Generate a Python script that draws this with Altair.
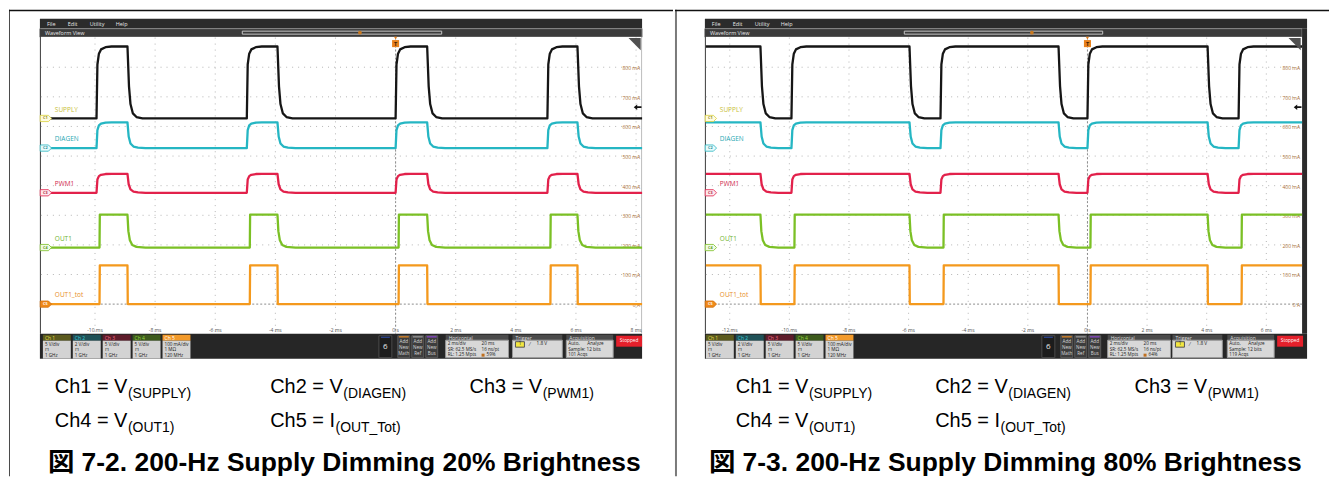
import altair as alt
import pandas as pd

# ---------------- values read from the two scope screens ----------------
CHANNELS = ["SUPPLY", "DIAGEN", "PWM1", "OUT1", "OUT1_tot"]
BADGES = ["C1", "C2", "C3", "C4", "C5"]
TRACE_COLORS = ["#161616", "#25b6c3", "#e2214b", "#7bc025", "#f4991d"]
LABEL_COLORS = ["#c8c03a", "#28a8b3", "#d12a4e", "#70b42c", "#e88d24"]
# on-screen levels expressed on the Ch5 graticule (mA)
LOW_LEVEL = [627, 527, 376, 191, 0]
HIGH_LEVEL = [870, 614, 440, 302, 131]

# edge shapes: ms after the edge, fraction of the step
RISE_T = {"SUPPLY": [0, 0.03, 0.08, 0.15, 0.3, 0.5], "DIAGEN": [0, 0.03, 0.08, 0.15, 0.3, 0.5],
          "PWM1": [0, 0.03, 0.08, 0.15, 0.3, 0.5], "OUT1": [0.1, 0.11], "OUT1_tot": [0.1, 0.11]}
RISE_F = {"SUPPLY": [0, 0.75, 0.9, 0.96, 0.99, 1], "DIAGEN": [0, 0.7, 0.88, 0.95, 0.99, 1],
          "PWM1": [0, 0.7, 0.88, 0.95, 0.99, 1], "OUT1": [0, 1], "OUT1_tot": [0, 1]}
FALL_T = {"SUPPLY": [0, 0.05, 0.1, 0.18, 0.3, 0.5], "DIAGEN": [0, 0.04, 0.1, 0.2, 0.35, 0.6],
          "PWM1": [0, 0.04, 0.1, 0.2, 0.35, 0.6], "OUT1": [0, 0.03, 0.08, 0.16, 0.3, 0.6],
          "OUT1_tot": [0, 0.01]}
FALL_F = {"SUPPLY": [0, 0.55, 0.8, 0.93, 0.98, 1], "DIAGEN": [0, 0.55, 0.82, 0.94, 0.98, 1],
          "PWM1": [0, 0.55, 0.82, 0.94, 0.98, 1], "OUT1": [0, 0.5, 0.78, 0.92, 0.98, 1],
          "OUT1_tot": [0, 1]}

P20_WINDOW = [-11.8, 8.2]
P20_RISE = [-9.95, -4.95, 0.0, 5.05]
P20_FALL = [-8.92, -3.93, 1.05, 6.05]
P20_TICKS = [-10, -8, -6, -4, -2, 0, 2, 4, 6, 8]
P20_TICK_LABELS = ["-10 ms", "-8 ms", "-6 ms", "-4 ms", "-2 ms", "0 s", "2 ms", "4 ms", "6 ms", "8 ms"]

P80_WINDOW = [-12.8, 7.2]
P80_RISE = [-9.93, -4.93, 0.0, 5.07]
P80_FALL = [-10.97, -5.97, -0.97, 4.03]
P80_TICKS = [-12, -10, -8, -6, -4, -2, 0, 2, 4, 6]
P80_TICK_LABELS = ["-12 ms", "-10 ms", "-8 ms", "-6 ms", "-4 ms", "-2 ms", "0 s", "2 ms", "4 ms", "6 ms"]

MA_TICKS = [0, 100, 200, 300, 400, 500, 600, 700, 800]
MA_TICK_LABELS = ["0 A", "100 mA", "200 mA", "300 mA", "400 mA", "500 mA", "600 mA", "700 mA", "800 mA"]
TRIGGER_LEVEL = 665

CH_HEADERS = ["Ch 1", "Ch 2", "Ch 3", "Ch 4", "Ch 5"]
CH_SCALE = ["5 V/div", "2 V/div", "5 V/div", "5 V/div", "100 mA/div"]
CH_COUPLING = ["⊓", "⊓", "⊓", "⊓", "1 MΩ"]
CH_BANDWIDTH = ["1 GHz", "1 GHz", "1 GHz", "1 GHz", "120 MHz"]
ADD_NEW = ["Math", "Ref", "Bus"]
HORIZ_LEFT = ["2 ms/div", "SR: 62.5 MS/s", "RL: 1.25 Mpts"]
HORIZ_RIGHT = ["20 ms", "16 ns/pt"]
ACQ_LINES = ["Sample: 12 bits"]

CAPTION_MAIN = ["Ch1 = V", "Ch2 = V", "Ch3 = V", "Ch4 = V", "Ch5 = I"]
CAPTION_SUB = ["(SUPPLY)", "(DIAGEN)", "(PWM1)", "(OUT1)", "(OUT_Tot)"]
TITLES = ["図 7-2. 200-Hz Supply Dimming 20% Brightness",
          "図 7-3. 200-Hz Supply Dimming 80% Brightness"]
TRIG_POS = ["59%", "64%"]
ACQ_COUNT = ["101 Acqs", "119 Acqs"]

# ---------------- layout / style ----------------
H = 468
Y_TOP, Y_BOT = 28, 325
UI_FONT = "Open Sans"
DOC_FONT = "Liberation Sans, Arial, Noto Sans CJK JP"
HDR_FILL = ["#5b5a1e", "#1f5157", "#5e1c2a", "#3d5a1c", "#f39a2a"]
HDR_TEXT = ["#e3dc4a", "#3cc8d4", "#f06a84", "#95d640", "#ffffff"]
ADD_COLORS = ["#e08a2a", "#9a9a9a", "#8a4ac8"]
MAIN_SIZE, SUB_SIZE, TITLE_SIZE = 20, 14, 26.5
CW = {"C": 0.722, "h": 0.556, "=": 0.584, " ": 0.278, "V": 0.667, "I": 0.278}
for d in "0123456789":
    CW[d] = 0.556

PANELS = [
    dict(width=666, sx=31, sx1=635, px0=32, px1=635, window=P20_WINDOW, rise=P20_RISE,
         fall=P20_FALL, start_high=False, ticks=P20_TICKS, tick_labels=P20_TICK_LABELS,
         right_frame=False, slider=(234, 434, 352), ch_x=34, six_x=371, add_x=390,
         hor_x=438, trg_x=505, acq_x=559, stop_x=609, cap_x=[46, 262, 462], title_x=39,
         idx=0, border="left"),
    dict(width=656, sx=30, sx1=634, px0=31, px1=629, window=P80_WINDOW, rise=P80_RISE,
         fall=P80_FALL, start_high=True, ticks=P80_TICKS, tick_labels=P80_TICK_LABELS,
         right_frame=True, slider=(230, 429, 358), ch_x=31, six_x=368, add_x=387,
         hor_x=434, trg_x=499, acq_x=554, stop_x=604, cap_x=[61, 261, 461], title_x=34,
         idx=1, border="divider"),
]


def trace_frame(window, rises, falls, start_high):
    rows = []
    events = sorted([(t, "r") for t in rises] + [(t, "f") for t in falls])
    for ci, ch in enumerate(CHANNELS):
        lo, hi = LOW_LEVEL[ci], HIGH_LEVEL[ci]
        level = hi if start_high else lo
        pts = [(window[0], level)]
        for t, kind in events:
            if kind == "r":
                offs, fr, a, b = RISE_T[ch], RISE_F[ch], lo, hi
            else:
                offs, fr, a, b = FALL_T[ch], FALL_F[ch], hi, lo
            for o, f in zip(offs, fr):
                pts.append((t + o, a + f * (b - a)))
            level = b
        pts.append((window[1], level))
        for k, (t, v) in enumerate(pts):
            rows.append({"t": t, "v": v, "ch": ch, "k": k, "col": TRACE_COLORS[ci]})
    return pd.DataFrame(rows)


def R(x, x2, y, y2, fill, stroke="transparent"):
    return {"x": x, "x2": x2, "y": y, "y2": y2, "fill": fill, "stroke": stroke}


def T(x, y, text, color, size, align="left", weight="normal"):
    return {"x": x, "y": y, "text": text, "color": color, "size": size, "align": align,
            "weight": weight}


def rect_layer(rows):
    return alt.Chart(pd.DataFrame(rows)).mark_rect(strokeWidth=1).encode(
        x=alt.X("x:Q", scale=None), x2="x2:Q", y=alt.Y("y:Q", scale=None), y2="y2:Q",
        fill=alt.Fill("fill:N", scale=None), stroke=alt.Stroke("stroke:N", scale=None))


def text_layers(rows, font=UI_FONT, baseline="middle"):
    df = pd.DataFrame(rows)
    out = []
    for (al, wt), g in df.groupby(["align", "weight"]):
        out.append(alt.Chart(g.reset_index(drop=True)).mark_text(
            align=al, baseline=baseline, font=font, fontWeight=wt).encode(
            x=alt.X("x:Q", scale=None), y=alt.Y("y:Q", scale=None), text="text:N",
            color=alt.Color("color:N", scale=None), size=alt.Size("size:Q", scale=None)))
    return out


def build_panel(P):
    W, sx, sx1, px0, px1 = P["width"], P["sx"], P["sx1"], P["px0"], P["px1"]
    xs = alt.Scale(domain=P["window"], range=[px0, px1], nice=False, zero=False)
    ys = alt.Scale(domain=[-100, 900], range=[Y_BOT, Y_TOP], nice=False, zero=False)

    # ---- chrome ----
    bg = [
        R(sx, sx1, 9, 19, "#2b2b2b"),
        R(sx, px1, 19, 27.5, "#3b3b3b", "#8a8a8a"),
        R(sx, px1, 27.5, Y_BOT, "#ffffff"),
        R(sx, sx + 1, 19, Y_BOT, "#3a3a3a"),
        R(sx, sx1, Y_BOT, 350, "#262626"),
    ]
    if P["right_frame"]:
        bg.append(R(px1, sx1, 19, Y_BOT, "#2b2b2b"))
    else:
        bg.append(R(px1 - 1, px1, 27.5, Y_BOT, "#bdbdbd"))
    sl0, sl1, slm = P["slider"]
    bg.append(R(sl0, sl1, 21.5, 24.5, "transparent", "#c6c6c6"))
    texts = [T(sx + d, 14, s, "#e6e6e6", 5.5) for d, s in zip([7, 28, 50, 76],
                                                              ["File", "Edit", "Utility", "Help"])]
    texts.append(T(sx + 5, 23.3, "Waveform View", "#e6e6e6", 5.5))

    # status bar
    sb = []
    for i in range(5):
        x0 = P["ch_x"] + 30 * i
        sb.append(R(x0, x0 + 28, 326, 332, HDR_FILL[i]))
        sb.append(R(x0, x0 + 28, 332, 350, "#d3d3d3"))
        texts.append(T(x0 + 2, 329, CH_HEADERS[i], HDR_TEXT[i], 5))
        for y, s in zip([336, 341.5, 347], [CH_SCALE[i], CH_COUPLING[i], CH_BANDWIDTH[i]]):
            texts.append(T(x0 + 2, y, s, "#1a1a1a", 4.6))
    six = P["six_x"]
    sb.append(R(six, six + 13, 327, 349, "#1c1c1c", "#4a4a4a"))
    sb.append(R(six + 2, six + 11, 328, 329, "#3050b0"))
    texts.append(T(six + 6.5, 338.5, "6", "#e8e8e8", 8, "center"))
    for j in range(3):
        x0 = P["add_x"] + 14 * j
        sb.append(R(x0, x0 + 12, 327, 349, "#3d3d3d", "#5a5a5a"))
        sb.append(R(x0 + 1, x0 + 11, 327.5, 328.8, ADD_COLORS[j]))
        for y, s in zip([333, 339, 345], ["Add", "New", ADD_NEW[j]]):
            texts.append(T(x0 + 6, y, s, "#d8d8d8", 4.6, "center"))
    for bx, bw, title in [(P["hor_x"], 63, "Horizontal"), (P["trg_x"], 50, "Trigger"),
                          (P["acq_x"], 47, "Acquisition")]:
        sb.append(R(bx, bx + bw, 326, 331.5, "#4b4b4b"))
        sb.append(R(bx, bx + bw, 331.5, 349, "#d8d8d8", "#9a9a9a"))
        texts.append(T(bx + 3, 328.8, title, "#dcdcdc", 5))
    hx = P["hor_x"]
    for y, a in zip([335.5, 341, 346.5], HORIZ_LEFT):
        texts.append(T(hx + 2, y, a, "#1a1a1a", 4.6))
    for y, b in zip([335.5, 341], HORIZ_RIGHT):
        texts.append(T(hx + 36, y, b, "#1a1a1a", 4.6))
    sb.append(R(hx + 36, hx + 39, 345, 348, "#c07020"))
    texts.append(T(hx + 41, 346.5, TRIG_POS[P["idx"]], "#1a1a1a", 4.6))
    tx = P["trg_x"]
    sb.append(R(tx + 3, tx + 12, 333, 338.5, "#f2e640", "#555555"))
    texts.append(T(tx + 7.5, 335.8, "1", "#222222", 4.6, "center"))
    texts.append(T(tx + 17, 335.8, "⁄", "#333333", 5))
    texts.append(T(tx + 24, 335.8, "1.8 V", "#1a1a1a", 4.8))
    ax = P["acq_x"]
    texts.append(T(ax + 2, 335.5, "Auto,", "#1a1a1a", 4.6))
    texts.append(T(ax + 21, 335.5, "Analyze", "#1a1a1a", 4.6))
    texts.append(T(ax + 2, 341, ACQ_LINES[0], "#1a1a1a", 4.6))
    texts.append(T(ax + 2, 346.5, ACQ_COUNT[P["idx"]], "#1a1a1a", 4.6))
    st = P["stop_x"]
    sb.append(R(st, st + 26, 327, 338, "#e5202b"))
    texts.append(T(st + 13, 332.5, "Stopped", "#ffffff", 4.8, "center"))

    # page borders
    if P["border"] == "left":
        bg.append(R(0, 1, 0, H, "#4a4a4a"))
    else:
        bg.append(R(0, 2, 0, H, "#7a7a7a"))
    bg.append(R(0, W, 0, 1.5, "#111111"))

    layers = [rect_layer(bg), rect_layer(sb)]

    # slider marker
    layers.append(alt.Chart(pd.DataFrame({"m": [slm]})).mark_point(
        shape="circle", size=14, filled=True, color="#c9781e", opacity=1).encode(
        x=alt.X("m:Q", scale=None), y=alt.value(23)))

    # ---- graticule ----
    layers.append(alt.Chart(pd.DataFrame({"t": P["ticks"]})).mark_rule(
        color="#b5b5b5", strokeDash=[1, 5], strokeWidth=1).encode(
        x=alt.X("t:Q", scale=xs, axis=None), y=alt.value(Y_TOP), y2=alt.value(Y_BOT)))
    layers.append(alt.Chart(pd.DataFrame({"v": MA_TICKS[1:]})).mark_rule(
        color="#b5b5b5", strokeDash=[1, 5], strokeWidth=1).encode(
        y=alt.Y("v:Q", scale=ys, axis=None), x=alt.value(px0), x2=alt.value(px1)))
    layers.append(alt.Chart(pd.DataFrame({"v": [0]})).mark_rule(
        color="#8c8c8c", strokeDash=[2, 2], strokeWidth=1).encode(
        y=alt.Y("v:Q", scale=ys, axis=None), x=alt.value(px0), x2=alt.value(px1)))
    layers.append(alt.Chart(pd.DataFrame({"t": [0]})).mark_rule(
        color="#8c8c8c", strokeDash=[2, 2], strokeWidth=1).encode(
        x=alt.X("t:Q", scale=xs, axis=None), y=alt.value(Y_TOP), y2=alt.value(Y_BOT)))

    # tick labels
    layers.append(alt.Chart(pd.DataFrame({"t": P["ticks"], "lab": P["tick_labels"]})).mark_text(
        fontSize=5, color="#555555", font=UI_FONT, align="center", baseline="middle").encode(
        x=alt.X("t:Q", scale=xs, axis=None), y=alt.value(321), text="lab:N"))
    layers.append(alt.Chart(pd.DataFrame({"v": MA_TICKS, "lab": MA_TICK_LABELS})).mark_text(
        fontSize=5, color="#a86d33", font=UI_FONT, align="right", baseline="middle", dy=1).encode(
        y=alt.Y("v:Q", scale=ys, axis=None), x=alt.value(px1 - 2), text="lab:N"))

    # ---- traces ----
    tr = trace_frame(P["window"], P["rise"], P["fall"], P["start_high"])
    layers.append(alt.Chart(tr).mark_line(strokeWidth=2.3, strokeJoin="round").encode(
        x=alt.X("t:Q", scale=xs, axis=None), y=alt.Y("v:Q", scale=ys, axis=None),
        detail="ch:N", color=alt.Color("col:N", scale=None), order="k:Q"))

    # channel badges and labels
    lab = pd.DataFrame({"ch": CHANNELS, "badge": BADGES, "lo": LOW_LEVEL,
                        "ly": [v + 30 for v in LOW_LEVEL], "lc": LABEL_COLORS,
                        "bfill": ["#fffbe0", "#e8fbfc", "#fde8ec", "#f0fae4", "#f08a1a"],
                        "bstroke": ["#d8cf3a", "#28b5c0", "#e2214b", "#7bc025", "#d07010"],
                        "btext": ["#8a8420", "#1a8a94", "#b01a3a", "#5a9a1a", "#ffffff"]})
    layers.append(alt.Chart(lab).mark_text(align="left", baseline="middle", fontSize=6.5,
                                           font=UI_FONT).encode(
        x=alt.value(px0 + 14), y=alt.Y("ly:Q", scale=ys, axis=None), text="ch:N",
        color=alt.Color("lc:N", scale=None)))
    layers.append(alt.Chart(lab).mark_point(
        shape="M-1,-0.55L0.45,-0.55L1,0L0.45,0.55L-1,0.55Z", size=130, filled=True,
        opacity=1, strokeWidth=0.8).encode(
        x=alt.value(sx + 6), y=alt.Y("lo:Q", scale=ys, axis=None),
        fill=alt.Fill("bfill:N", scale=None), stroke=alt.Stroke("bstroke:N", scale=None)))
    layers.append(alt.Chart(lab).mark_text(align="center", baseline="middle", fontSize=3.8,
                                           font=UI_FONT, fontWeight="bold").encode(
        x=alt.value(sx + 5.5), y=alt.Y("lo:Q", scale=ys, axis=None), text="badge:N",
        color=alt.Color("btext:N", scale=None)))

    # trigger marker, trigger level arrow, zoom corner
    layers.append(alt.Chart(pd.DataFrame({"t": [0]})).mark_point(
        shape="triangle-down", size=10, filled=True, color="#e8821e", opacity=1).encode(
        x=alt.X("t:Q", scale=xs, axis=None), y=alt.value(28.5)))
    layers.append(alt.Chart(pd.DataFrame({"t": [0]})).mark_square(
        size=50, color="#e8821e", opacity=1).encode(
        x=alt.X("t:Q", scale=xs, axis=None), y=alt.value(34)))
    layers.append(alt.Chart(pd.DataFrame({"t": [0], "s": ["T"]})).mark_text(
        fontSize=5.5, color="#3a2000", fontWeight="bold", font=UI_FONT, baseline="middle").encode(
        x=alt.X("t:Q", scale=xs, axis=None), y=alt.value(34.3), text="s:N"))
    layers.append(alt.Chart(pd.DataFrame({"v": [TRIGGER_LEVEL]})).mark_point(
        shape="M-1,0L-0.1,-0.7L-0.1,-0.22L1,-0.22L1,0.22L-0.1,0.22L-0.1,0.7Z", size=60,
        filled=True, color="#111111", opacity=1).encode(
        x=alt.value(px1 - 4.5), y=alt.Y("v:Q", scale=ys, axis=None)))
    layers.append(alt.Chart(pd.DataFrame({"v": [1]})).mark_point(
        shape="M-1,-1L1,-1L1,1Z", size=150, filled=True, color="#505050", opacity=1).encode(
        x=alt.value(px1 - 7.5), y=alt.value(34.5)))

    # chrome text
    layers += text_layers(texts)

    # ---- captions ----
    cx = P["cap_x"]
    spots = [(cx[0], 384), (cx[1], 384), (cx[2], 384), (cx[0], 419), (cx[1], 419)]
    main_rows, sub_rows = [], []
    for (x, y), m, s in zip(spots, CAPTION_MAIN, CAPTION_SUB):
        main_rows.append(T(x, y, m, "#000000", MAIN_SIZE))
        wpx = sum(CW[c] for c in m) * MAIN_SIZE
        sub_rows.append(T(x + wpx + 0.5, y + 5, s, "#000000", SUB_SIZE))
    main_rows.append(T(P["title_x"], 463, TITLES[P["idx"]], "#000000", TITLE_SIZE, "left", "bold"))
    layers += text_layers(main_rows + sub_rows, font=DOC_FONT, baseline="alphabetic")

    return alt.layer(*layers).properties(width=W, height=H)


chart = alt.hconcat(*[build_panel(P) for P in PANELS], spacing=0).properties(
    padding=0, background="white").configure_view(stroke=None)

chart.save("out.html", embed_options={"renderer": "svg", "actions": False})
